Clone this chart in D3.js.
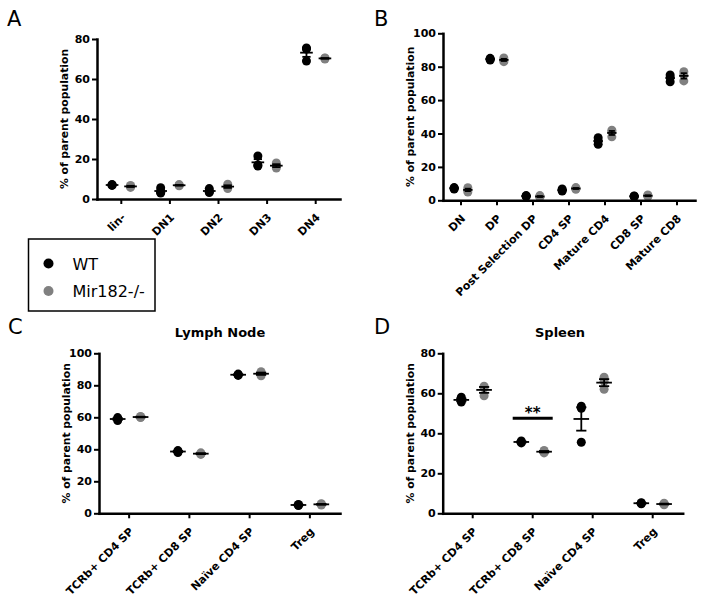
<!DOCTYPE html>
<html>
<head>
<meta charset="utf-8">
<script src="https://d3js.org/d3.v7.min.js"></script>
<style>
body { margin: 0; background: #fff; }
svg text { font-family: "DejaVu Sans", sans-serif; }
</style>
</head>
<body>
<svg id="vis" width="704" height="597"></svg>
<script>
// ---- data (3 mice per group) ----
var catsA = ["lin-", "DN1", "DN2", "DN3", "DN4"];
var wtA = [[7.2, 7.0, 6.8], [5.6, 3.4, 3.0], [5.2, 3.6, 3.2], [21.5, 17.0, 16.5], [75.5, 75.0, 69.0]];
var koA = [[6.8, 6.3, 5.8], [7.2, 6.8, 6.6], [7.4, 6.0, 5.2], [18.0, 16.5, 15.5], [70.5, 70.0, 70.4]];

var catsB = ["DN", "DP", "Post Selection DP", "CD4 SP", "Mature CD4", "CD8 SP", "Mature CD8"];
var wtB = [[7.6, 7.2, 6.8], [85.0, 84.5, 84.0], [2.8, 2.5, 2.3], [6.8, 6.0, 5.6], [37.5, 35.5, 33.5], [2.6, 2.4, 2.2], [75.0, 73.5, 71.0]];
var koB = [[7.5, 6.2, 5.0], [85.2, 84.0, 83.0], [2.8, 2.2, 1.8], [7.6, 7.0, 6.6], [42.0, 41.0, 38.0], [3.2, 2.7, 2.3], [77.0, 75.0, 71.5]];

var catsC = ["TCRb+ CD4 SP", "TCRb+ CD8 SP", "Naïve CD4 SP", "Treg"];
var wtC = [[59.8, 59.0, 58.0], [39.2, 38.6, 38.0], [87.0, 86.6, 86.2], [5.5, 5.2, 4.9]];
var koC = [[60.5, 60.2, 59.8], [37.8, 37.2, 36.8], [88.5, 87.2, 86.0], [6.0, 5.6, 5.2]];

var catsD = ["TCRb+ CD4 SP", "TCRb+ CD8 SP", "Naïve CD4 SP", "Treg"];
var wtD = [[58.0, 56.5, 55.6], [36.2, 35.6, 35.2], [53.5, 52.5, 35.5], [5.3, 5.0, 4.8]];
var koD = [[63.5, 62.8, 58.8], [31.4, 30.8, 30.2], [62.0, 68.0, 66.0], [5.0, 4.6, 4.3]];

// significance mark in D
var sigCat = "TCRb+ CD8 SP", sigLevel = 47.5, sigText = "**";

var groupNames = ["WT", "Mir182-/-"];
var wtColor = "#000", koColor = "#808080";

var svg = d3.select("#vis");

// GraphPad-ish look
var jitter = 0.19, meanW = 0.26, capW = 0.17;

function drawPanel(p) {
  var g = svg.append("g");
  var x = d3.scaleBand().domain(p.cats).range([p.left, p.right]);
  var y = d3.scaleLinear().domain([0, p.ymax]).range([p.bottom, p.top]);
  var step = x.step();
  function cx(c) { return x(c) + x.bandwidth() / 2; }

  var groups = [];
  p.cats.forEach(function(c, i) {
    groups.push({cat: c, vals: p.wt[i], dx: -jitter * step, fill: wtColor});
    groups.push({cat: c, vals: p.ko[i], dx: jitter * step, fill: koColor});
  });

  // dots
  groups.forEach(function(gr) {
    g.selectAll(null).data(gr.vals).enter().append("circle")
      .attr("cx", cx(gr.cat) + gr.dx)
      .attr("cy", function(d) { return y(d); })
      .attr("r", 4.5)
      .attr("fill", gr.fill);
  });

  // mean line + SEM
  groups.forEach(function(gr) {
    var m = d3.mean(gr.vals), s = d3.deviation(gr.vals) / Math.sqrt(gr.vals.length);
    var xc = cx(gr.cat) + gr.dx;
    var e = g.append("g").attr("stroke", "#000").attr("stroke-width", 1.8);
    e.append("line").attr("x1", xc - meanW * step / 2).attr("x2", xc + meanW * step / 2)
      .attr("y1", y(m)).attr("y2", y(m));
    e.append("line").attr("x1", xc).attr("x2", xc).attr("y1", y(m - s)).attr("y2", y(m + s));
    [m - s, m + s].forEach(function(v) {
      e.append("line").attr("x1", xc - capW * step / 2).attr("x2", xc + capW * step / 2)
        .attr("y1", y(v)).attr("y2", y(v));
    });
  });

  // axes
  var gy = g.append("g").attr("transform", "translate(" + p.left + ",0)")
    .call(d3.axisLeft(y).tickValues(d3.range(0, p.ymax + 1, 20)).tickSize(5).tickSizeOuter(0).tickPadding(2));
  var gx = g.append("g").attr("transform", "translate(0," + p.bottom + ")")
    .call(d3.axisBottom(x).tickSize(5).tickSizeOuter(0));

  [gy, gx].forEach(function(a) {
    a.select(".domain").attr("stroke-width", 2.5).attr("stroke-linecap", "square");
    a.selectAll(".tick line").attr("stroke-width", 2);
    a.selectAll("text").attr("font-family", "DejaVu Sans").attr("font-weight", "bold")
      .attr("font-size", 11).attr("fill", "#000");
  });
  gx.selectAll(".tick text")
    .attr("y", 0).attr("dy", 0)
    .attr("text-anchor", "end")
    .attr("transform", "translate(5,19) rotate(-45)");

  g.append("text")
    .attr("transform", "translate(" + (p.left - 29) + "," + ((p.top + p.bottom) / 2) + ") rotate(-90)")
    .attr("text-anchor", "middle")
    .attr("font-weight", "bold").attr("font-size", 10.8)
    .text("% of parent population");

  g.append("text").attr("x", p.lx).attr("y", p.ly).attr("font-size", 21).text(p.letter);

  if (p.title) {
    g.append("text").attr("x", p.tx).attr("y", p.ly + 3)
      .attr("text-anchor", "middle").attr("font-weight", "bold").attr("font-size", 13)
      .text(p.title);
  }

  return {x: x, y: y, g: g, cx: cx, step: step};
}

drawPanel({letter: "A", cats: catsA, wt: wtA, ko: koA, ymax: 80,
  left: 97, right: 340, top: 39, bottom: 199, lx: 7, ly: 26});
drawPanel({letter: "B", cats: catsB, wt: wtB, ko: koB, ymax: 100,
  left: 443, right: 695, top: 33.3, bottom: 200.3, lx: 374, ly: 26});
drawPanel({letter: "C", cats: catsC, wt: wtC, ko: koC, ymax: 100, title: "Lymph Node", tx: 220,
  left: 99, right: 340, top: 353.3, bottom: 513.3, lx: 8, ly: 334});
var pd = drawPanel({letter: "D", cats: catsD, wt: wtD, ko: koD, ymax: 80, title: "Spleen", tx: 560,
  left: 442.7, right: 682.7, top: 353.3, bottom: 513.3, lx: 374, ly: 334});

// significance bar
var sx = pd.cx(sigCat), sy = pd.y(sigLevel);
pd.g.append("line").attr("x1", sx - pd.step / 3).attr("x2", sx + pd.step / 3)
  .attr("y1", sy).attr("y2", sy).attr("stroke", "#000").attr("stroke-width", 3);
pd.g.append("text").attr("x", sx).attr("y", sy - 0.5).attr("text-anchor", "middle")
  .attr("font-weight", "bold").attr("font-size", 15).text(sigText);

// legend
var lg = svg.append("g").attr("transform", "translate(28.5,239)");
lg.append("rect").attr("width", 126.5).attr("height", 72)
  .attr("fill", "none").attr("stroke", "#000").attr("stroke-width", 1.5);
lg.selectAll("circle").data(groupNames).enter().append("circle")
  .attr("cx", 20).attr("cy", function(d, i) { return 24.5 + i * 27.5; })
  .attr("r", 5).attr("fill", function(d, i) { return i ? koColor : wtColor; });
lg.selectAll("text").data(groupNames).enter().append("text")
  .attr("x", 44).attr("y", function(d, i) { return 31 + i * 26.5; })
  .attr("font-size", 16).text(function(d) { return d; });
</script>
</body>
</html>
